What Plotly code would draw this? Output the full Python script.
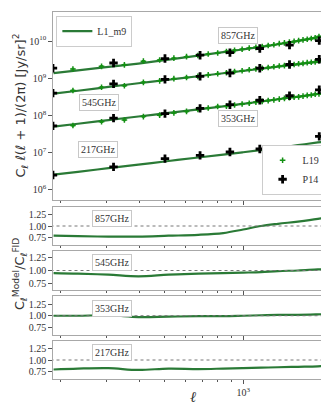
import plotly.graph_objects as go

# multipole bins
ell_l19 = [223, 287, 351, 415, 479, 543, 607, 671, 735, 799, 863, 927, 991, 1055,
           1119, 1183, 1247, 1311, 1375, 1439, 1503, 1567, 1631, 1695, 1759, 1823, 1887, 1951]
ell_p14 = [187, 319, 502, 684, 890, 1158, 1505, 1956]
ell_model = [188, 233, 305, 397, 518, 673, 839, 1000, 1171, 1360, 1621, 1932, 2206]

# model L1_m9 spectra [Jy/sr]^2
model_857 = [1.38e9, 1.63e9, 2.02e9, 2.48e9, 3.16e9, 4.06e9, 5.01e9, 5.97e9, 6.98e9, 8.20e9, 1.007e10, 1.26e10, 1.55e10]
model_545 = [3.85e8, 4.62e8, 5.85e8, 7.36e8, 9.14e8, 1.135e9, 1.361e9, 1.578e9, 1.803e9, 2.042e9, 2.372e9, 2.761e9, 3.09e9]
model_353 = [5.01e7, 6.00e7, 7.53e7, 9.40e7, 1.175e8, 1.459e8, 1.754e8, 2.056e8, 2.380e8, 2.733e8, 3.214e8, 3.802e8, 4.365e8]
model_217 = [2.57e6, 3.07e6, 3.84e6, 4.79e6, 6.00e6, 7.45e6, 8.92e6, 1.031e7, 1.177e7, 1.355e7, 1.600e7, 1.888e7, 2.138e7]

# L19 data
l19_857 = [1.778e9, 2.089e9, 2.291e9, 2.884e9, 3.090e9, 3.467e9, 3.802e9, 4.074e9, 4.467e9, 4.786e9,
           5.248e9, 5.623e9, 6.026e9, 6.457e9, 6.761e9, 7.079e9, 7.586e9, 7.943e9, 8.511e9, 8.913e9,
           9.333e9, 9.772e9, 1.023e10, 1.072e10, 1.122e10, 1.175e10, 1.230e10, 1.318e10]
l19_545 = [4.677e8, 5.754e8, 6.310e8, 7.762e8, 8.511e8, 9.772e8, 1.047e9, 1.122e9, 1.230e9, 1.318e9,
           1.413e9, 1.514e9, 1.585e9, 1.698e9, 1.778e9, 1.862e9, 1.950e9, 2.042e9, 2.138e9, 2.188e9,
           2.291e9, 2.344e9, 2.455e9, 2.512e9, 2.630e9, 2.692e9, 2.754e9, 2.951e9]
l19_353 = [5.370e7, 6.761e7, 7.586e7, 9.333e7, 1.023e8, 1.175e8, 1.288e8, 1.445e8, 1.585e8, 1.738e8,
           1.778e8, 1.905e8, 2.042e8, 2.138e8, 2.291e8, 2.399e8, 2.512e8, 2.630e8, 2.754e8, 2.884e8,
           3.020e8, 3.090e8, 3.162e8, 3.311e8, 3.467e8, 3.548e8, 3.715e8, 3.802e8]

# P14 data
p14_857 = [1.862e9, 2.570e9, 3.388e9, 4.169e9, 4.898e9, 6.310e9, 7.762e9, 1.023e10]
p14_545 = [3.98e8, 7.08e8, 9.33e8, 1.122e9, 1.380e9, 1.862e9, 2.344e9, 3.236e9]
p14_353 = [5.25e7, 8.51e7, 1.122e8, 1.549e8, 1.950e8, 2.570e8, 3.388e8, 4.898e8]
p14_217 = [2.51e6, 4.17e6, 6.92e6, 8.51e6, 1.047e7, 1.259e7, 1.047e7, 2.754e7]

# model / fiducial ratios
ratio_857 = [0.78, 0.77, 0.76, 0.76, 0.78, 0.80, 0.84, 0.92, 1.00, 1.05, 1.10, 1.16, 1.22]
ratio_545 = [0.95, 0.94, 0.92, 0.89, 0.92, 0.94, 0.95, 0.96, 0.97, 0.99, 1.00, 1.02, 1.03]
ratio_353 = [1.00, 1.00, 1.01, 0.97, 0.98, 0.99, 0.99, 1.00, 1.01, 1.02, 1.02, 1.03, 1.04]
ratio_217 = [0.79, 0.81, 0.82, 0.78, 0.81, 0.80, 0.81, 0.82, 0.83, 0.84, 0.85, 0.86, 0.88]

freqs = ["857GHz", "545GHz", "353GHz", "217GHz"]

LINE = "#2a7a36"
DOT = "#139013"
SERIF = "Liberation Serif"
SANS = "DejaVu Sans"

fig = go.Figure()

models = [model_857, model_545, model_353, model_217]
for i, m in enumerate(models):
    fig.add_trace(go.Scatter(x=ell_model, y=m, mode="lines", line=dict(color=LINE, width=2.2, shape="spline"),
                             name="L1_m9", showlegend=(i == 0), legend="legend", xaxis="x", yaxis="y"))

for i, d in enumerate([l19_857, l19_545, l19_353]):
    fig.add_trace(go.Scatter(x=ell_l19, y=d, mode="markers", name="L19", showlegend=(i == 0), legend="legend2",
                             marker=dict(symbol="cross-thin", size=4, color=DOT, line=dict(color=DOT, width=1.5)),
                             error_y=dict(type="percent", value=4, color=DOT, thickness=1, width=1.5),
                             xaxis="x", yaxis="y"))

for i, d in enumerate([p14_857, p14_545, p14_353, p14_217]):
    fig.add_trace(go.Scatter(x=ell_p14, y=d, mode="markers", name="P14", showlegend=(i == 0), legend="legend2",
                             marker=dict(symbol="cross", size=7, color="black"),
                             xaxis="x", yaxis="y"))

ratios = [ratio_857, ratio_545, ratio_353, ratio_217]
for i, r in enumerate(ratios):
    fig.add_trace(go.Scatter(x=ell_model, y=r, mode="lines", line=dict(color=LINE, width=2.2, shape="spline"),
                             showlegend=False, xaxis="x%d" % (i + 2), yaxis="y%d" % (i + 2)))
    fig.add_trace(go.Scatter(x=[ell_model[0] - 5, ell_model[-1] + 50], y=[1, 1], mode="lines",
                             line=dict(color="#777777", width=1, dash="dot"),
                             showlegend=False, xaxis="x%d" % (i + 2), yaxis="y%d" % (i + 2)))

xrange = [2.272, 3.344]
minor_x = [200, 300, 400, 500, 600, 700, 800, 900, 2000]
axis_common = dict(showline=True, linecolor="#a8a8a8", linewidth=1.4, mirror=True, showgrid=False,
                   zeroline=False, ticks="outside", tickcolor="#555555", ticklen=3.5,
                   tickfont=dict(family=SERIF, size=10, color="#333333"))

H0, H1 = 4, 371
def dom(top, bottom):
    return [(H1 - bottom) / (H1 - H0), (H1 - top) / (H1 - H0)]

domains = [dom(4, 192), dom(199, 237), dom(243, 282), dom(288, 327), dom(333, 371)]
ratio_ranges = [[0.57, 1.43], [0.63, 1.37], [0.58, 1.43], [0.58, 1.42]]

layout = dict(
    width=329, height=406, margin=dict(l=45, r=4, t=4, b=35),
    plot_bgcolor="white", paper_bgcolor="white",
)
for k in range(5):
    xs = "" if k == 0 else str(k + 1)
    layout["xaxis" + xs] = dict(axis_common, type="log", range=xrange, anchor="y" + xs,
                                tickvals=[1000], ticktext=["10<sup>3</sup>" if k == 4 else " "],
                                minor=dict(tickvals=minor_x, ticks="outside", ticklen=2, tickcolor="#555555"),
                                **({} if k == 0 else {"matches": "x"}))
layout["yaxis"] = dict(axis_common, type="log", range=[5.73, 10.78], domain=domains[0], anchor="x",
                       tickvals=[1e6, 1e7, 1e8, 1e9, 1e10],
                       ticktext=["10<sup>6</sup>", "10<sup>7</sup>", "10<sup>8</sup>", "10<sup>9</sup>", "10<sup>10</sup>"])
for k in range(4):
    layout["yaxis%d" % (k + 2)] = dict(axis_common, range=ratio_ranges[k], domain=domains[k + 1],
                                       anchor="x%d" % (k + 2), tickvals=[0.75, 1.0, 1.25],
                                       ticktext=["0.75", "1.00", "1.25"])
fig.update_layout(**layout)

fig.update_layout(
    legend=dict(x=0.012, y=0.99, xanchor="left", yanchor="top", bordercolor="#cccccc", borderwidth=1,
                bgcolor="white", font=dict(family=SERIF, size=10, color="#333333"), itemwidth=30,
                tracegroupgap=0),
    legend2=dict(x=0.745, y=0.502, xanchor="left", yanchor="bottom", bordercolor="#cccccc", borderwidth=1,
                 bgcolor="white", font=dict(family=SERIF, size=10, color="#333333"), itemwidth=30,
                 tracegroupgap=0),
)

box = dict(bordercolor="#c8c8c8", borderwidth=1, borderpad=2, bgcolor="white", showarrow=False,
           font=dict(family=SERIF, size=10, color="#333333"))
main_pos = [(2.981, 10.16), (2.447, 8.36), (2.981, 7.93), (2.443, 7.10)]
for f, (px, py) in zip(freqs, main_pos):
    fig.add_annotation(text=f, x=px, y=py, xref="x", yref="y", **box)
for k, f in enumerate(freqs):
    fig.add_annotation(text=f, x=2.496, y=1.16, xref="x%d" % (k + 2), yref="y%d" % (k + 2), **box)

fig.add_annotation(text="C<sub>ℓ</sub> ℓ(ℓ + 1)/(2π) [Jy/sr]<sup>2</sup>", x=-0.118, y=0.745,
                   xref="paper", yref="paper", xanchor="center", yanchor="middle", textangle=-90,
                   showarrow=False, font=dict(family=SANS, size=13, color="#333333"))
fig.add_annotation(text="C<sub>ℓ</sub><sup>Model</sup>/C<sub>ℓ</sub><sup>FID</sup>", x=-0.118, y=0.286,
                   xref="paper", yref="paper", xanchor="center", yanchor="middle", textangle=-90,
                   showarrow=False, font=dict(family=SANS, size=13, color="#333333"))
fig.add_annotation(text="<i>ℓ</i>", x=0.5, y=-0.048, xref="paper", yref="paper", showarrow=False,
                   xanchor="center", yanchor="middle", font=dict(family=SERIF, size=15, color="#333333"))

fig.write_html("out.html")
